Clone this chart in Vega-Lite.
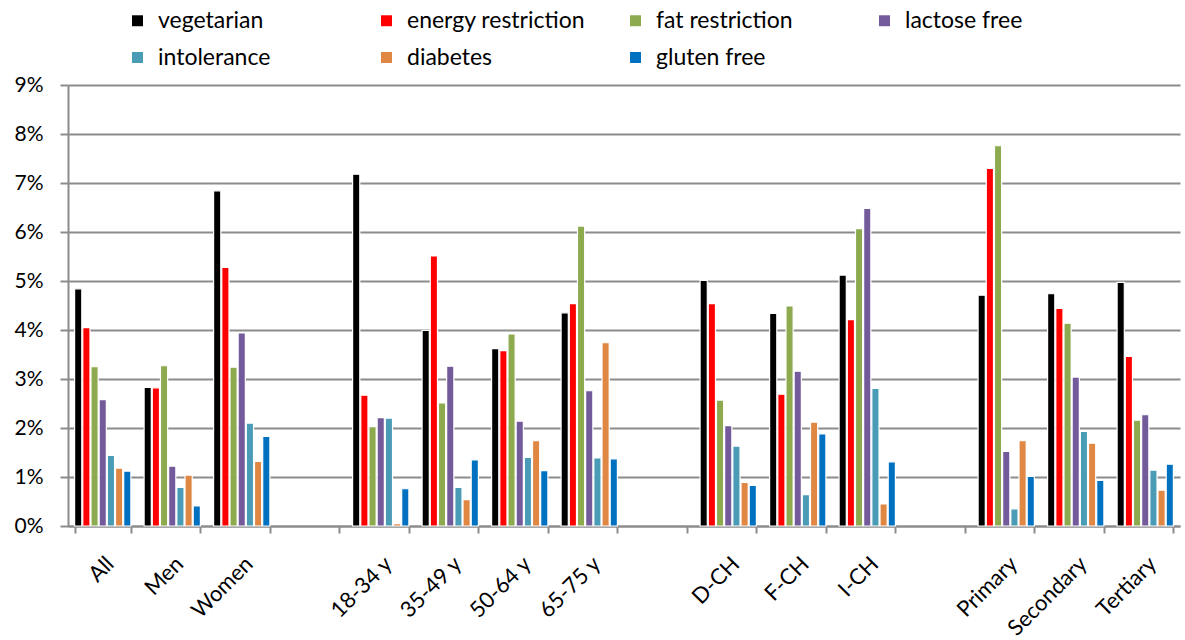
{
  "$schema": "https://vega.github.io/schema/vega-lite/v6.json",
  "autosize": "none",
  "padding": {"left": 68, "top": 85, "right": 5, "bottom": 114},
  "width": 1112,
  "height": 441,
  "background": "white",
  "config": {"font": "Lato", "view": {"stroke": null}},
  "data": {
    "values": [
      {"group": "All", "vegetarian": 0.0484, "energy restriction": 0.0405, "fat restriction": 0.0325, "lactose free": 0.0258, "intolerance": 0.0144, "diabetes": 0.0118, "gluten free": 0.0112},
      {"group": "Men", "vegetarian": 0.0283, "energy restriction": 0.0282, "fat restriction": 0.0327, "lactose free": 0.0122, "intolerance": 0.0079, "diabetes": 0.0104, "gluten free": 0.0041},
      {"group": "Women", "vegetarian": 0.0684, "energy restriction": 0.0528, "fat restriction": 0.0324, "lactose free": 0.0394, "intolerance": 0.0210, "diabetes": 0.0132, "gluten free": 0.0183},
      {"group": "18-34 y", "vegetarian": 0.0718, "energy restriction": 0.0267, "fat restriction": 0.0203, "lactose free": 0.0221, "intolerance": 0.0220, "diabetes": 0.0005, "gluten free": 0.0076},
      {"group": "35-49 y", "vegetarian": 0.0399, "energy restriction": 0.0551, "fat restriction": 0.0251, "lactose free": 0.0326, "intolerance": 0.0079, "diabetes": 0.0054, "gluten free": 0.0135},
      {"group": "50-64 y", "vegetarian": 0.0362, "energy restriction": 0.0358, "fat restriction": 0.0392, "lactose free": 0.0214, "intolerance": 0.0140, "diabetes": 0.0174, "gluten free": 0.0113},
      {"group": "65-75 y", "vegetarian": 0.0435, "energy restriction": 0.0454, "fat restriction": 0.0612, "lactose free": 0.0276, "intolerance": 0.0139, "diabetes": 0.0374, "gluten free": 0.0137},
      {"group": "D-CH", "vegetarian": 0.0501, "energy restriction": 0.0454, "fat restriction": 0.0257, "lactose free": 0.0205, "intolerance": 0.0163, "diabetes": 0.0089, "gluten free": 0.0083},
      {"group": "F-CH", "vegetarian": 0.0434, "energy restriction": 0.0269, "fat restriction": 0.0449, "lactose free": 0.0316, "intolerance": 0.0064, "diabetes": 0.0212, "gluten free": 0.0188},
      {"group": "I-CH", "vegetarian": 0.0512, "energy restriction": 0.0421, "fat restriction": 0.0607, "lactose free": 0.0648, "intolerance": 0.0281, "diabetes": 0.0045, "gluten free": 0.0131},
      {"group": "Primary", "vegetarian": 0.0471, "energy restriction": 0.0730, "fat restriction": 0.0776, "lactose free": 0.0152, "intolerance": 0.0035, "diabetes": 0.0174, "gluten free": 0.0101},
      {"group": "Secondary", "vegetarian": 0.0474, "energy restriction": 0.0444, "fat restriction": 0.0414, "lactose free": 0.0304, "intolerance": 0.0193, "diabetes": 0.0169, "gluten free": 0.0093},
      {"group": "Tertiary", "vegetarian": 0.0497, "energy restriction": 0.0346, "fat restriction": 0.0216, "lactose free": 0.0227, "intolerance": 0.0114, "diabetes": 0.0073, "gluten free": 0.0126}
    ]
  },
  "transform": [
    {"fold": ["vegetarian", "energy restriction", "fat restriction", "lactose free", "intolerance", "diabetes", "gluten free"], "as": ["diet", "value"]}
  ],
  "mark": {"type": "bar", "stroke": "white", "strokeWidth": 1.2},
  "encoding": {
    "x": {
      "field": "group",
      "type": "nominal",
      "scale": {
        "domain": ["All", "Men", "Women", " ", "18-34 y", "35-49 y", "50-64 y", "65-75 y", "  ", "D-CH", "F-CH", "I-CH", "   ", "Primary", "Secondary", "Tertiary"],
        "paddingInner": 0.19,
        "paddingOuter": 0.095
      },
      "axis": {
        "title": null,
        "labelAngle": -45,
        "labelFontSize": 22,
        "labelColor": "black",
        "labelPadding": 20,
        "tickBand": "extent",
        "tickSize": 7,
        "tickColor": "#8c8c8c",
        "tickWidth": 2,
        "domainColor": "#8c8c8c",
        "domainWidth": 2,
        "grid": false
      }
    },
    "xOffset": {
      "field": "diet",
      "type": "nominal",
      "sort": ["vegetarian", "energy restriction", "fat restriction", "lactose free", "intolerance", "diabetes", "gluten free"],
      "scale": {"paddingInner": 0.12}
    },
    "y": {
      "field": "value",
      "type": "quantitative",
      "scale": {"domain": [0, 0.09], "nice": false},
      "axis": {
        "title": null,
        "values": [0, 0.01, 0.02, 0.03, 0.04, 0.05, 0.06, 0.07, 0.08, 0.09],
        "format": ".0%",
        "labelFontSize": 21,
        "labelColor": "black",
        "labelPadding": 17,
        "tickSize": 8,
        "tickColor": "#8c8c8c",
        "tickWidth": 2,
        "domainColor": "#8c8c8c",
        "domainWidth": 2,
        "gridColor": "#8c8c8c",
        "gridWidth": 2
      }
    },
    "color": {
      "field": "diet",
      "type": "nominal",
      "sort": ["vegetarian", "energy restriction", "fat restriction", "lactose free", "intolerance", "diabetes", "gluten free"],
      "scale": {
        "domain": ["vegetarian", "energy restriction", "fat restriction", "lactose free", "intolerance", "diabetes", "gluten free"],
        "range": ["#000000", "#ff0000", "#8daa4f", "#735a9a", "#4a9bb5", "#df8743", "#0070c0"]
      },
      "legend": {
        "title": null,
        "orient": "none",
        "legendX": 58,
        "legendY": -76,
        "direction": "horizontal",
        "columns": 4,
        "gridAlign": "all",
        "columnPadding": 38,
        "rowPadding": 13,
        "symbolType": "square",
        "symbolSize": 120,
        "symbolStrokeWidth": 0,
        "labelFontSize": 23,
        "labelColor": "black",
        "labelOffset": 9,
        "labelLimit": 300
      }
    }
  }
}
